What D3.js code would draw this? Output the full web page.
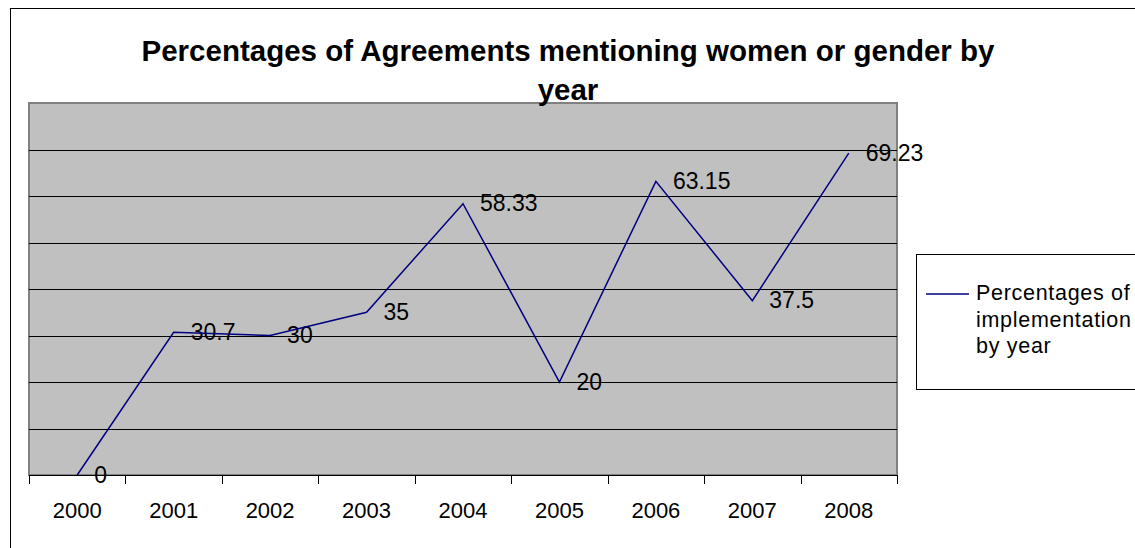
<!DOCTYPE html>
<html>
<head>
<meta charset="utf-8">
<script src="https://cdn.jsdelivr.net/npm/d3@7"></script>
<style>
	body { margin: 0; background: #fff; }
	text { font-family: "Liberation Sans", Arial, sans-serif; }
</style>
</head>
<body>
<svg id="chart" width="1135" height="548"></svg>
<script>
// data
var years = ["2000", "2001", "2002", "2003", "2004", "2005", "2006", "2007", "2008"];
var values = [0, 30.7, 30, 35, 58.33, 20, 63.15, 37.5, 69.23];
var labels = ["0", "30.7", "30", "35", "58.33", "20", "63.15", "37.5", "69.23"];
var gridValues = [10, 20, 30, 40, 50, 60, 70];
var seriesName = ["Percentages of", "implementation", "by year"];

var svg = d3.select("#chart");

// chart border
svg.append("rect")
	.attr("x", 10.5).attr("y", 8.5)
	.attr("width", 1200).attr("height", 600)
	.attr("fill", "#fff").attr("stroke", "#000").attr("stroke-width", 1);

// plot area
var PL = 29, PR = 897, PT = 103, PB = 475;

var x = d3.scaleBand().domain(years).range([PL, PR]);
var y = d3.scaleLinear().domain([0, 80]).range([PB, PT]);

svg.append("rect")
	.attr("x", PL).attr("y", PT)
	.attr("width", PR - PL).attr("height", PB - PT)
	.attr("fill", "#c0c0c0").attr("stroke", "#808080").attr("stroke-width", 2);

// gridlines
svg.append("g").selectAll("line")
	.data(gridValues)
	.enter().append("line")
	.attr("x1", PL).attr("x2", PR)
	.attr("y1", function(d) { return Math.round(y(d)) + 0.5; })
	.attr("y2", function(d) { return Math.round(y(d)) + 0.5; })
	.attr("stroke", "#000").attr("stroke-width", 1);

// x axis line + ticks at band edges
svg.append("line")
	.attr("x1", PL).attr("x2", PR)
	.attr("y1", PB + 0.5).attr("y2", PB + 0.5)
	.attr("stroke", "#000");

var edges = years.map(function(d) { return x(d); }).concat([PR]);
svg.append("g").selectAll("line")
	.data(edges)
	.enter().append("line")
	.attr("x1", function(d) { return Math.round(d) + 0.5; })
	.attr("x2", function(d) { return Math.round(d) + 0.5; })
	.attr("y1", PB).attr("y2", PB + 9)
	.attr("stroke", "#000");

svg.append("g").selectAll("text")
	.data(years)
	.enter().append("text")
	.attr("x", function(d) { return x(d) + x.bandwidth() / 2; })
	.attr("y", 518)
	.attr("text-anchor", "middle")
	.attr("font-size", "22px")
	.attr("fill", "#000")
	.text(function(d) { return d; });

// data labels
svg.append("g").selectAll("text")
	.data(values)
	.enter().append("text")
	.attr("x", function(d, i) { return x(years[i]) + x.bandwidth() / 2 + 17; })
	.attr("y", function(d) { return y(d) + 7.5; })
	.attr("font-size", "23px")
	.attr("fill", "#000")
	.text(function(d, i) { return labels[i]; });

// series line
var line = d3.line()
	.x(function(d, i) { return x(years[i]) + x.bandwidth() / 2; })
	.y(function(d) { return y(d); });

svg.append("path")
	.datum(values)
	.attr("d", line)
	.attr("fill", "none")
	.attr("stroke", "#000080")
	.attr("stroke-width", 1.5);

// title
var title = svg.append("text")
	.attr("text-anchor", "middle")
	.attr("font-size", "29.5px")
	.attr("font-weight", "bold")
	.attr("fill", "#000");
title.append("tspan").attr("x", 568).attr("y", 61)
	.text("Percentages of Agreements mentioning women or gender by");
title.append("tspan").attr("x", 568).attr("y", 100).text("year");

// legend
var lg = svg.append("g");
lg.append("rect")
	.attr("x", 916.5).attr("y", 254.5)
	.attr("width", 300).attr("height", 135)
	.attr("fill", "#fff").attr("stroke", "#000");
lg.append("line")
	.attr("x1", 926).attr("x2", 969)
	.attr("y1", 294).attr("y2", 294)
	.attr("stroke", "#000080").attr("stroke-width", 1.5);
lg.selectAll("text.leg")
	.data(seriesName)
	.enter().append("text")
	.attr("class", "leg")
	.attr("x", 976)
	.attr("y", function(d, i) { return 300 + i * 26.5; })
	.attr("font-size", "21.5px")
	.attr("letter-spacing", "0.7px")
	.attr("fill", "#000")
	.text(function(d) { return d; });
</script>
</body>
</html>
